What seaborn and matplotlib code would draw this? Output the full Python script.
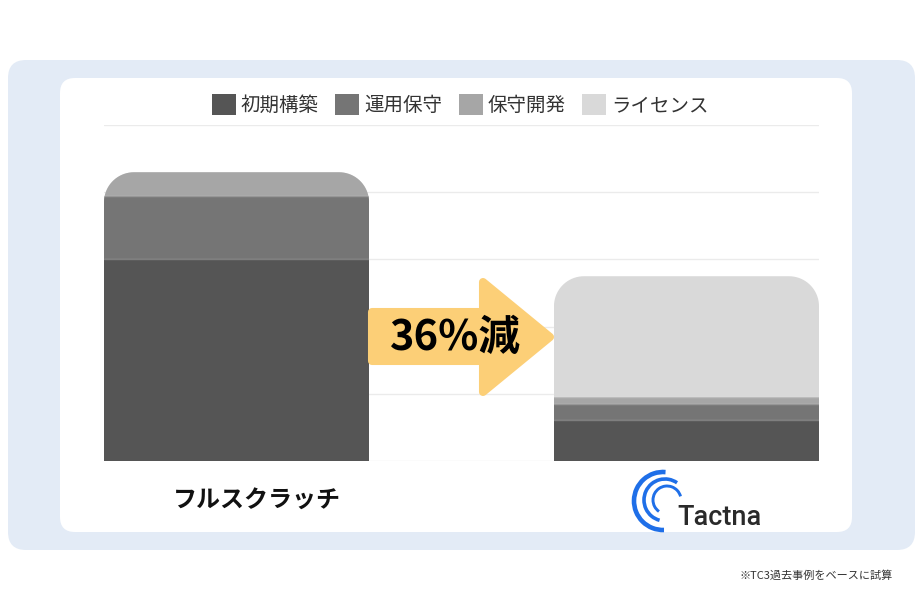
import numpy as np
import pandas as pd
import seaborn as sns
import matplotlib.pyplot as plt
from matplotlib.patches import FancyBboxPatch, Polygon, Patch, Arc, PathPatch
from matplotlib.path import Path

# データ（目盛りは非表示なので相対値）
categories = ['フルスクラッチ', 'Tactna']
series_names = ['初期構築', '運用保守', '保守開発', 'ライセンス']
initial_build = [3.00, 0.60]
operation = [0.95, 0.24]
maintenance_dev = [0.35, 0.11]
license_cost = [0.00, 1.80]
colors = ['#555555', '#757575', '#A6A6A6', '#D9D9D9']
reduction_label = '36%減'
footnote = '※TC3過去事例をベースに試算'

values = np.array([initial_build, operation, maintenance_dev, license_cost])
cum = values.cumsum(axis=0)
totals = cum[-1]

sns.set_theme(style='white')
plt.rcParams['font.family'] = ['Noto Sans CJK JP', 'DejaVu Sans']

W, H = 923, 600
fig = plt.figure(figsize=(W / 100, H / 100), dpi=100)


def px(x, y):
    # 画像のピクセル座標 -> インチ（dpi_scale_trans用）
    return x / 100, (H - y) / 100


# 背景の角丸ボックス
for (x0, y0, x1, y1, r, c) in [(8, 60, 915, 550, 18, '#E3EBF6'), (60, 78, 852, 532, 15, 'white')]:
    bx, by = px(x0, y1)
    fig.add_artist(FancyBboxPatch((bx, by), (x1 - x0) / 100, (y1 - y0) / 100,
                                  boxstyle=f'round,pad=0,rounding_size={r / 100}',
                                  transform=fig.dpi_scale_trans, facecolor=c,
                                  edgecolor='none', zorder=-10))

# 軸の配置
ax_l, ax_r, ax_t, ax_b = 104, 819, 125.3, 460.7
ax = fig.add_axes([ax_l / W, 1 - ax_b / H, (ax_r - ax_l) / W, (ax_b - ax_t) / H])
ax.set_facecolor('none')

bw = 0.589
# 積み上げ（上の層から順に重ねる）
for i in range(len(series_names) - 1, -1, -1):
    sns.barplot(x=categories, y=cum[i], color=colors[i], width=bw,
                saturation=1, linewidth=0, ax=ax, zorder=2)

xlim = (-bw / 2, 1 + bw / 2)
ax.set_xlim(xlim)
ax.set_ylim(0, 5)
ax.set_yticks(np.arange(0, 6, 1))
ax.grid(axis='y', color='#EBEBEB', linewidth=1)
ax.set_axisbelow(True)
ax.set_xticks([])
ax.set_yticklabels([])
ax.tick_params(left=False, bottom=False)
ax.set_xlabel('')
ax.set_ylabel('')
for s in ax.spines.values():
    s.set_visible(False)

# 角丸の上端（半径30px）
x_per_px = (xlim[1] - xlim[0]) / (ax_r - ax_l)
y_per_px = 5 / (ax_b - ax_t)
rx, ry = 30 * x_per_px, 30 * y_per_px
clips = []
for j in range(len(categories)):
    left, right, top = j - bw / 2, j + bw / 2, totals[j]
    t = np.linspace(np.pi, np.pi / 2, 20)
    corner_l = np.column_stack([left + rx + rx * np.cos(t), top - ry + ry * np.sin(t)])
    t = np.linspace(np.pi / 2, 0, 20)
    corner_r = np.column_stack([right - rx + rx * np.cos(t), top - ry + ry * np.sin(t)])
    verts = np.vstack([[left, -1], corner_l, corner_r, [right, -1], [left, -1]])
    codes = [Path.MOVETO] + [Path.LINETO] * (len(verts) - 2) + [Path.CLOSEPOLY]
    clips.append(PathPatch(Path(verts, codes), transform=ax.transData))

for p in ax.patches:
    cx = p.get_x() + p.get_width() / 2
    p.set_clip_path(clips[int(round(cx))])

# 区切り線
for j in range(len(categories)):
    for i in range(len(series_names) - 1):
        if values[i + 1, j] > 0:
            ln, = ax.plot([j - bw / 2, j + bw / 2], [cum[i, j], cum[i, j]],
                          color='white', alpha=0.25, lw=1, zorder=3)
            ln.set_clip_path(clips[j])

# 凡例
handles = [Patch(facecolor=c, edgecolor='none') for c in colors]
leg = fig.legend(handles, series_names, loc='center', ncol=4, frameon=False,
                 bbox_to_anchor=(460 / W, 1 - 105 / H), fontsize=14,
                 handlelength=1.24, handleheight=1.24, handletextpad=0.25,
                 columnspacing=0.85, borderaxespad=0)
for t in leg.get_texts():
    t.set_color('#333333')

# 矢印
arrow_pts = [(372, 312), (483, 312), (483, 282), (550, 337), (483, 392),
             (483, 361), (372, 361)]
fig.add_artist(Polygon([px(*p) for p in arrow_pts], closed=True,
                       transform=fig.dpi_scale_trans, facecolor='#FCCF77',
                       edgecolor='#FCCF77', lw=5.8, joinstyle='round', zorder=5))
fig.text(*px(455, 338), reduction_label, transform=fig.dpi_scale_trans,
         ha='center', va='center', fontsize=30, fontweight='bold',
         color='black', zorder=6)

# カテゴリ名
fig.text(*px(257, 500), categories[0], transform=fig.dpi_scale_trans,
         ha='center', va='center', fontsize=17.3, fontweight='bold', color='#111111')

# Tactna ロゴ
for (cx, cy, r, t1, t2, lw) in [(663, 501, 29, 85, 272, 3.3),
                                (665, 500, 21, 55, 255, 2.6),
                                (667, 500, 14, 15, 235, 2.1)]:
    x, y = px(cx, cy)
    fig.add_artist(Arc((x, y), 2 * r / 100, 2 * r / 100, theta1=t1, theta2=t2,
                       transform=fig.dpi_scale_trans, color='#1F6FE8', lw=lw))
fig.text(*px(677, 525), categories[1], transform=fig.dpi_scale_trans,
         ha='left', va='baseline', fontsize=19.5, color='#2A2A2A',
         family='Roboto', fontweight='medium')

# 注記
fig.text(*px(893, 576), footnote, transform=fig.dpi_scale_trans,
         ha='right', va='center', fontsize=8, color='#333333')

fig.savefig('out.png', dpi=100, facecolor='white')
